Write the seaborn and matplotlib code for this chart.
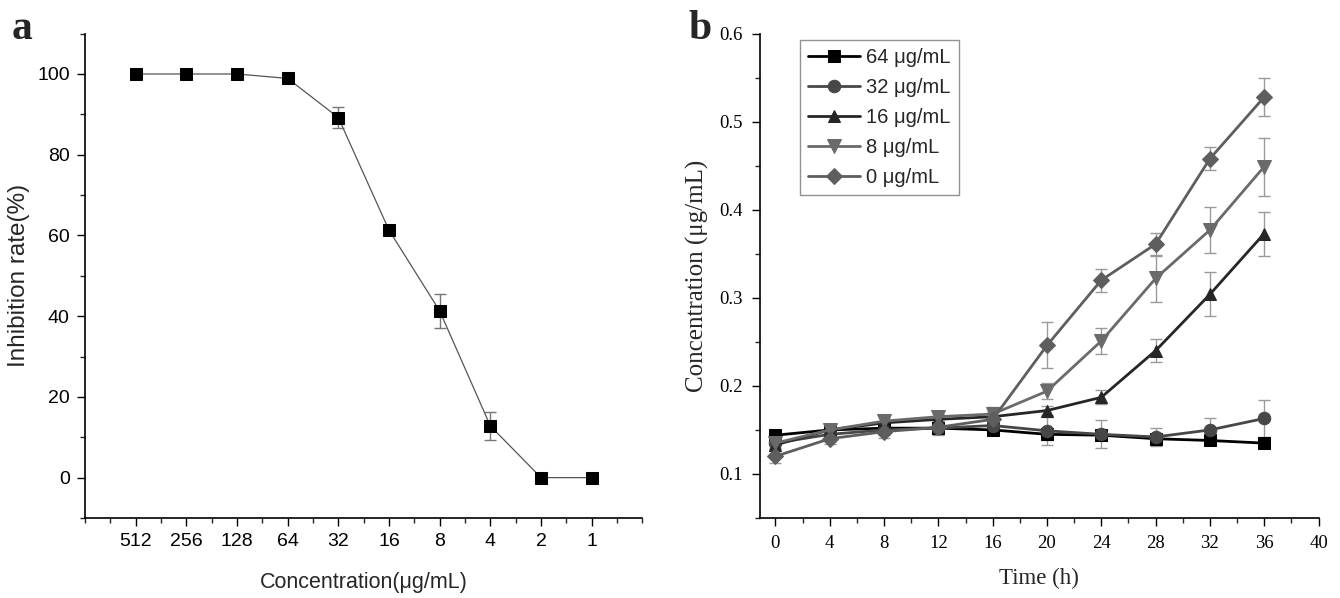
import numpy as np
import pandas as pd
import matplotlib
matplotlib.use("Agg")
import matplotlib.pyplot as plt
from matplotlib.ticker import MultipleLocator
import seaborn as sns

# panel a: inhibition rate vs concentration
conc_labels = ["512", "256", "128", "64", "32", "16", "8", "4", "2", "1"]
inhibition = [100, 100, 100, 98.9, 89.2, 61.3, 41.3, 12.8, 0, 0]
inhibition_err = [0.3, 0.3, 0.3, 0.5, 2.7, 0.6, 4.2, 3.5, 0.2, 0.2]

# panel b: concentration over time for each dose
time_h = [0, 4, 8, 12, 16, 20, 24, 28, 32, 36]
series_names = ["64 μg/mL", "32 μg/mL", "16 μg/mL", "8 μg/mL", "0 μg/mL"]
c64 = [0.144, 0.150, 0.152, 0.152, 0.150, 0.145, 0.144, 0.140, 0.138, 0.135]
c32 = [0.135, 0.145, 0.150, 0.152, 0.155, 0.149, 0.145, 0.142, 0.150, 0.163]
c16 = [0.133, 0.150, 0.158, 0.162, 0.165, 0.172, 0.187, 0.240, 0.304, 0.373]
c8 = [0.135, 0.150, 0.160, 0.165, 0.168, 0.194, 0.251, 0.322, 0.377, 0.449]
c0 = [0.120, 0.140, 0.148, 0.153, 0.162, 0.246, 0.320, 0.361, 0.458, 0.528]
e64 = [0.004, 0.005, 0.005, 0.005, 0.005, 0.006, 0.005, 0.005, 0.004, 0.004]
e32 = [0.005, 0.005, 0.006, 0.008, 0.008, 0.016, 0.016, 0.010, 0.014, 0.021]
e16 = [0.005, 0.006, 0.006, 0.006, 0.006, 0.005, 0.008, 0.013, 0.025, 0.025]
e8 = [0.005, 0.006, 0.007, 0.007, 0.008, 0.009, 0.015, 0.027, 0.026, 0.033]
e0 = [0.007, 0.006, 0.007, 0.007, 0.008, 0.026, 0.013, 0.013, 0.013, 0.022]

sns.set_theme(style="ticks")
plt.rcParams["font.family"] = ["Liberation Sans", "DejaVu Sans"]
serif = ["Liberation Serif", "DejaVu Serif"]

fig = plt.figure(figsize=(13.4, 5.98), dpi=100)
ax1 = fig.add_axes([0.0634, 0.1338, 0.416, 0.810])
ax2 = fig.add_axes([0.567, 0.1338, 0.417, 0.810])

# ---- panel a
pos = np.arange(1, len(conc_labels) + 1)
ax1.errorbar(pos, inhibition, yerr=inhibition_err, fmt="none", ecolor="#777777",
             elinewidth=1, capsize=4, capthick=1, zorder=1)
sns.lineplot(x=pos, y=inhibition, ax=ax1, color="#555555", linewidth=0.9,
             marker="s", markersize=9, markerfacecolor="black",
             markeredgecolor="black", zorder=2)
ax1.set_xlim(0, 11)
ax1.set_ylim(-10, 110)
ax1.set_xticks(pos)
ax1.set_xticklabels(conc_labels)
ax1.xaxis.set_minor_locator(MultipleLocator(0.5))
ax1.yaxis.set_minor_locator(MultipleLocator(10))
ax1.set_yticks([0, 20, 40, 60, 80, 100])
ax1.set_xlabel("Concentration(μg/mL)", fontsize=15.5)
ax1.set_ylabel("Inhibition rate(%)", fontsize=17.5)
ax1.xaxis.set_label_coords(0.5, -0.112)
ax1.yaxis.set_label_coords(-0.099, 0.5)
ax1.tick_params(axis="both", which="major", direction="out", length=6,
                width=1, labelsize=14, colors="black", pad=5)
ax1.tick_params(axis="both", which="minor", direction="out", length=3.5, width=1)
for s in ["top", "right"]:
    ax1.spines[s].set_visible(False)
for s in ["left", "bottom"]:
    ax1.spines[s].set_color("black")
    ax1.spines[s].set_linewidth(1.2)

# ---- panel b
conc_series = [c64, c32, c16, c8, c0]
err_series = [e64, e32, e16, e8, e0]
markers = ["s", "o", "^", "v", "D"]
colors = ["#000000", "#474747", "#262626", "#6a6a6a", "#5e5e5e"]
msizes = [8, 9, 9, 10, 8]
for name, vals, errs, mk, col, ms in zip(series_names, conc_series, err_series,
                                         markers, colors, msizes):
    ax2.errorbar(time_h, vals, yerr=errs, fmt="none", ecolor="#9a9a9a",
                 elinewidth=1, capsize=4, capthick=1, zorder=1)
    sns.lineplot(x=time_h, y=vals, ax=ax2, color=col, linewidth=2,
                 marker=mk, markersize=ms, markerfacecolor=col,
                 markeredgecolor=col, label=name, zorder=2)
ax2.set_xlim(-1.15, 40)
ax2.set_ylim(0.05, 0.6)
ax2.xaxis.set_major_locator(MultipleLocator(4))
ax2.xaxis.set_minor_locator(MultipleLocator(2))
ax2.yaxis.set_minor_locator(MultipleLocator(0.05))
ax2.set_yticks([0.1, 0.2, 0.3, 0.4, 0.5, 0.6])
ax2.set_yticklabels(["0.1", "0.2", "0.3", "0.4", "0.5", "0.6"])
ax2.tick_params(axis="both", which="major", direction="out", length=6,
                width=1, labelsize=13.5, colors="black", pad=6)
ax2.tick_params(axis="both", which="minor", direction="out", length=3.5, width=1)
for lab in ax2.get_xticklabels() + ax2.get_yticklabels():
    lab.set_family(serif)
ax2.set_xlabel("Time (h)", fontsize=16.5, family=serif)
ax2.set_ylabel("Concentration (μg/mL)", fontsize=18, family=serif)
ax2.xaxis.set_label_coords(0.5, -0.103)
ax2.yaxis.set_label_coords(-0.09, 0.5)
for s in ["top", "right"]:
    ax2.spines[s].set_visible(False)
for s in ["left", "bottom"]:
    ax2.spines[s].set_color("black")
    ax2.spines[s].set_linewidth(1.2)

leg = ax2.legend(loc="upper left", bbox_to_anchor=(0.072, 0.987), fontsize=14.5,
                 frameon=True, fancybox=False, handlelength=2.6,
                 handletextpad=0.3, labelspacing=0.55, borderpad=0.4,
                 borderaxespad=0)
leg.get_frame().set_edgecolor("#777777")
leg.get_frame().set_linewidth(1)

fig.text(0.009, 0.935, "a", fontsize=30, fontweight="bold", family=serif)
fig.text(0.514, 0.935, "b", fontsize=30, fontweight="bold", family=serif)

fig.savefig("out.png", dpi=100)
